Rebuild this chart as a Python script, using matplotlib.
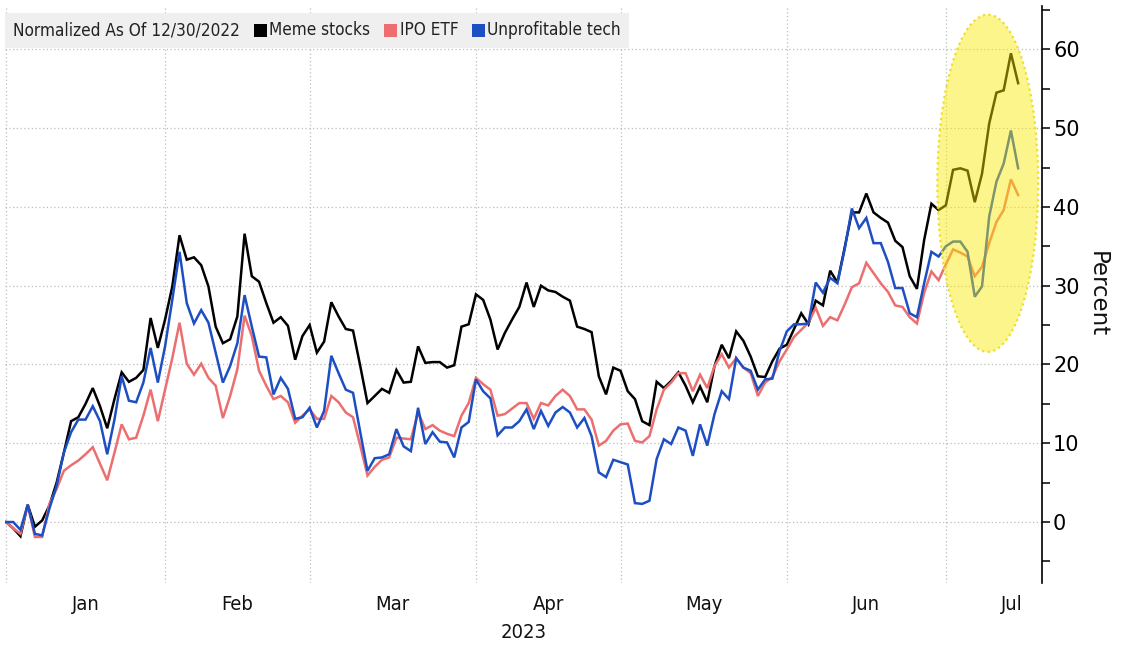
import numpy as np
import pandas as pd
import matplotlib
matplotlib.use("Agg")
import matplotlib.pyplot as plt
import matplotlib.ticker as mticker
from matplotlib import font_manager
from matplotlib.patches import Ellipse, Rectangle
from matplotlib.offsetbox import TextArea, DrawingArea, HPacker, AnchoredOffsetbox

# Weekday calendar, normalized to the 12/30/2022 close
dates = pd.bdate_range("2022-12-30", "2023-07-17")

meme_stocks = [
    0.0, 0.0, -0.8, -1.8, 2.2, -0.6, 0.2, 2.1, 5.0, 8.8, 12.8, 13.3, 15.0, 17.0, 14.7, 11.9,
    15.6, 19.0, 17.8, 18.3, 19.3, 25.9, 22.1, 25.7, 29.9, 36.4, 33.3, 33.6, 32.6, 29.9, 24.8,
    22.7, 23.2, 26.1, 36.6, 31.2, 30.5, 27.8, 25.3, 26.0, 24.9, 20.6, 23.6, 25.0, 21.5, 22.9,
    27.9, 26.1, 24.5, 24.3, 19.8, 15.1, 16.0, 16.9, 16.4, 19.3, 17.7, 17.8, 22.3, 20.2, 20.3,
    20.3, 19.6, 19.9, 24.8, 25.1, 28.9, 28.2, 25.7, 21.9, 24.0, 25.7, 27.3, 30.4, 27.3, 30.0,
    29.4, 29.2, 28.6, 28.1, 24.8, 24.5, 24.1, 18.5, 16.2, 19.6, 19.2, 16.6, 15.6, 12.8, 12.3,
    17.8, 17.0, 17.9, 19.0, 17.3, 15.2, 17.2, 15.2, 19.8, 22.5, 20.8, 24.2, 23.0, 21.0, 18.5,
    18.4, 20.4, 22.0, 22.5, 24.5, 26.5, 25.1, 28.1, 27.5, 31.9, 30.4, 34.8, 39.3, 39.3, 41.7,
    39.3, 38.6, 38.0, 35.7, 34.9, 31.2, 29.6, 35.8, 40.4, 39.6, 40.2, 44.7, 44.9, 44.6, 40.6,
    44.2, 50.6, 54.5, 54.8, 59.5, 55.7,
]

ipo_etf = [
    0.0, 0.0, -0.8, -1.5, 2.2, -1.9, -1.9, 2.3, 4.2, 6.5, 7.2, 7.8, 8.6, 9.5, 7.4, 5.3,
    8.8, 12.4, 10.5, 10.7, 13.5, 16.8, 12.8, 16.8, 20.8, 25.3, 20.1, 18.7, 20.1, 18.3, 17.3,
    13.2, 16.0, 19.4, 26.2, 23.6, 19.2, 17.3, 15.6, 16.0, 15.2, 12.6, 13.5, 14.3, 13.1, 13.1,
    16.0, 15.2, 13.9, 13.3, 9.7, 5.9, 7.0, 7.9, 8.2, 10.7, 10.6, 10.5, 13.9, 11.8, 12.3,
    11.6, 11.2, 10.9, 13.5, 15.1, 18.3, 17.5, 16.8, 13.5, 13.7, 14.4, 15.1, 15.1, 13.1, 15.1,
    14.8, 16.0, 16.8, 16.0, 14.3, 14.3, 13.0, 9.7, 10.3, 11.6, 12.4, 12.5, 10.3, 10.1, 10.9,
    14.3, 16.8, 17.7, 18.9, 18.9, 16.6, 18.7, 17.0, 19.8, 21.3, 19.6, 20.8, 19.6, 18.9, 16.0,
    17.7, 18.4, 20.4, 21.9, 23.5, 24.4, 25.3, 27.2, 24.9, 26.0, 25.6, 27.6, 29.8, 30.3, 32.9,
    31.6, 30.3, 29.2, 27.5, 27.3, 26.0, 25.2, 29.1, 31.8, 30.7, 32.7, 34.6, 34.2, 33.7, 31.2,
    32.4, 35.4, 38.1, 39.6, 43.5, 41.5,
]

unprofitable_tech = [
    0.0, 0.0, 0.0, -1.0, 2.2, -1.5, -1.7, 1.7, 4.6, 8.8, 11.4, 13.0, 13.0, 14.7, 12.8, 8.6,
    13.0, 18.5, 15.4, 15.2, 17.7, 22.1, 17.7, 22.3, 28.2, 34.3, 27.8, 25.2, 26.9, 25.3, 21.5,
    17.7, 19.8, 22.7, 28.8, 24.8, 21.0, 20.9, 16.2, 18.3, 16.9, 13.1, 13.3, 14.5, 12.0, 14.1,
    21.1, 18.9, 16.8, 16.4, 11.4, 6.5, 8.1, 8.2, 8.6, 11.8, 9.6, 9.0, 14.5, 9.9, 11.4,
    10.2, 10.1, 8.2, 12.0, 12.7, 18.1, 16.6, 15.7, 11.0, 12.0, 12.0, 12.8, 14.3, 11.8, 14.1,
    12.2, 13.9, 14.6, 13.9, 12.0, 13.2, 10.9, 6.3, 5.7, 7.9, 7.6, 7.3, 2.4, 2.3, 2.7,
    8.0, 10.5, 9.9, 12.0, 11.6, 8.4, 12.4, 9.7, 13.7, 16.6, 15.6, 20.8, 19.6, 19.2, 16.8,
    18.1, 18.2, 21.7, 24.2, 25.1, 25.1, 25.2, 30.4, 29.1, 31.0, 30.3, 34.6, 39.8, 37.3, 38.6,
    35.4, 35.4, 33.0, 29.7, 29.7, 26.5, 26.0, 30.3, 34.3, 33.7, 35.0, 35.6, 35.6, 34.3, 28.6,
    29.9, 38.8, 43.2, 45.5, 49.7, 44.9,
]

series_names = ["Meme stocks", "IPO ETF", "Unprofitable tech"]
series_values = [meme_stocks, ipo_etf, unprofitable_tech]
series_colors = ["#000000", "#ec6e6e", "#1d4fc2"]
legend_title = "Normalized As Of 12/30/2022"


def narrow_font():
    """Prefer a narrow sans face for the legend and month labels."""
    entries = font_manager.fontManager.ttflist
    for f in entries:
        if f.name == "Liberation Sans Narrow":
            return {"family": "Liberation Sans Narrow"}
    for f in entries:
        if f.name == "DejaVu Sans" and "condensed" in str(f.stretch):
            return {"family": "DejaVu Sans", "stretch": "condensed"}
    return {"family": "DejaVu Sans"}


NARROW = narrow_font()

W, H = 1121, 646
fig = plt.figure(figsize=(W / 100, H / 100), dpi=100)
ax = fig.add_axes([5 / W, 1 - 583 / H, (1042 - 5) / W, (583 - 6) / H])

x = np.arange(len(dates))
for k in range(len(series_values)):
    ax.plot(x, series_values[k], color=series_colors[k], lw=1.8,
            solid_joinstyle="miter", zorder=3 + k)

# month boundaries (gridlines) and centred month names
month_start = [i for i in range(1, len(dates)) if dates[i].month != dates[i - 1].month]
x_left, x_right = 0.86, 144.3
mids = []
for j, s in enumerate(month_start):
    if j + 1 < len(month_start):
        mids.append((s + month_start[j + 1]) / 2)
    else:
        mids.append(min(s + 11, x_right - 4.2))
month_names = [dates[s].strftime("%b") for s in month_start]

ax.set_xlim(x_left, x_right)
ax.set_ylim(-7.74, 65.5)

ax.xaxis.set_major_locator(mticker.FixedLocator(month_start))
ax.xaxis.set_major_formatter(mticker.NullFormatter())
ax.xaxis.set_minor_locator(mticker.FixedLocator(mids))
ax.xaxis.set_minor_formatter(mticker.FixedFormatter(month_names))
ax.tick_params(axis="x", which="both", length=0)
ax.tick_params(axis="x", which="minor", pad=9, labelcolor="#111111")
for lab in ax.xaxis.get_minorticklabels():
    lab.set_fontproperties(font_manager.FontProperties(size=14.5, **NARROW))
ax.set_xlabel("2023", fontsize=14.5, labelpad=6, color="#111111", **NARROW)

ax.yaxis.tick_right()
ax.yaxis.set_label_position("right")
ax.yaxis.set_major_locator(mticker.MultipleLocator(10))
ax.yaxis.set_minor_locator(mticker.MultipleLocator(5))
ax.tick_params(axis="y", which="both", direction="out", length=6, width=1.1,
               color="#000000")
ax.tick_params(axis="y", which="major", labelsize=15, pad=2)
ax.set_ylabel("Percent", fontsize=16.5, rotation=270, labelpad=21, color="#111111")

for side in ("top", "left", "bottom"):
    ax.spines[side].set_visible(False)
ax.spines["right"].set_linewidth(1.2)

ax.grid(which="major", axis="both", color="#bdbdbd", lw=0.9, ls=(0, (1, 2)))
ax.set_axisbelow(True)

# highlighted July rally
hl = Ellipse((136.8, 43.0), 13.95, 42.8, facecolor=(0.98, 0.92, 0.0, 0.45),
             edgecolor=(0.93, 0.87, 0.15, 1.0), lw=1.6, ls=(0, (1, 1.5)), zorder=10)
ax.add_patch(hl)

# legend strip
text_kw = dict(size=12.3, color="#222222", **NARROW)


def swatch(color):
    da = DrawingArea(9, 9, 0, 0)
    da.add_artist(Rectangle((0, 0), 9, 9, facecolor=color, edgecolor="none"))
    return da


items = [TextArea(legend_title, textprops=text_kw)]
for name, color in zip(series_names, series_colors):
    items.append(HPacker(children=[swatch(color), TextArea(name, textprops=text_kw)],
                         align="center", pad=0, sep=2))
strip = HPacker(children=items, align="center", pad=0, sep=10)
box = AnchoredOffsetbox(loc="upper left", child=strip, pad=0.6, borderpad=0,
                        frameon=True, bbox_to_anchor=(5 / W, 1 - 13 / H),
                        bbox_transform=fig.transFigure)
box.patch.set_facecolor("#efefef")
box.patch.set_edgecolor("none")
box.patch.set_boxstyle("square", pad=0)
box.set_zorder(20)
ax.add_artist(box)

fig.savefig("out.png", dpi=100)
